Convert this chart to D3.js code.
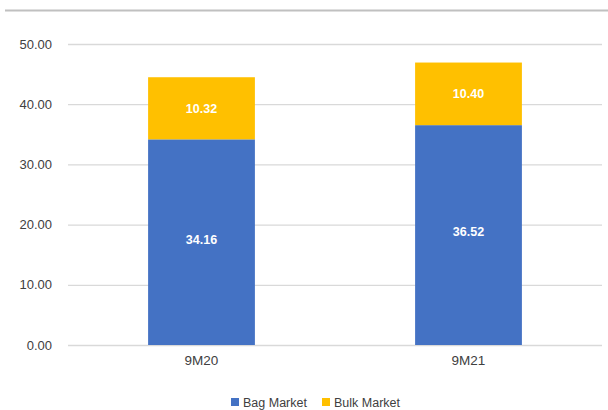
<!DOCTYPE html>
<html>
<head>
<meta charset="utf-8">
<script src="https://cdn.jsdelivr.net/npm/d3@7"></script>
<style>
  html, body { margin: 0; padding: 0; background: #fff; }
  svg { display: block; font-family: "Liberation Sans", Arial, sans-serif; }
</style>
</head>
<body>
<svg id="chart" width="608" height="410"></svg>
<script>
// Stacked volumes by period
const categories = ["9M20", "9M21"];
const seriesNames = ["Bag Market", "Bulk Market"];
const bagMarket = [34.16, 36.52];
const bulkMarket = [10.32, 10.40];
const yTicks = [0, 10, 20, 30, 40, 50];
const colors = ["#4472C4", "#FFC000"];

const svg = d3.select("#chart");
const margin = { left: 68, right: 6, top: 44, bottom: 65 };
const W = 608, H = 410;

const x = d3.scaleBand()
  .domain(categories)
  .range([margin.left, W - margin.right])
  .paddingInner(0.6)
  .paddingOuter(0.3);

const y = d3.scaleLinear()
  .domain([0, 50])
  .range([H - margin.bottom, margin.top]);

// Top frame line
svg.append("line")
  .attr("x1", 5).attr("x2", W)
  .attr("y1", 10.5).attr("y2", 10.5)
  .attr("stroke", "#c0c0c0").attr("stroke-width", 2);

// Gridlines and y labels
const yAxis = d3.axisLeft(y)
  .tickValues(yTicks)
  .tickSize(-(W - margin.right - margin.left))
  .tickPadding(16)
  .tickFormat(d3.format(".2f"));

const gy = svg.append("g")
  .attr("transform", `translate(${margin.left},0)`)
  .call(yAxis);
gy.select(".domain").remove();
gy.selectAll(".tick line").attr("stroke", "#d9d9d9").attr("stroke-width", 1.3);
gy.selectAll(".tick text")
  .attr("fill", "#404040")
  .style("font-size", "13px");

// Stacked bars
const rows = categories.map((c, i) => ({ cat: c, "Bag Market": bagMarket[i], "Bulk Market": bulkMarket[i] }));
const stack = d3.stack().keys(seriesNames)(rows);

const layers = svg.append("g").selectAll("g")
  .data(stack)
  .join("g")
  .attr("fill", (d, i) => colors[i]);

layers.selectAll("rect")
  .data(d => d)
  .join("rect")
  .attr("x", d => x(d.data.cat))
  .attr("width", x.bandwidth())
  .attr("y", d => y(d[1]))
  .attr("height", d => y(d[0]) - y(d[1]));

// Value labels inside segments
layers.selectAll("text")
  .data(d => d.map(v => ({ v, key: d.key })))
  .join("text")
  .attr("x", d => x(d.v.data.cat) + x.bandwidth() / 2)
  .attr("y", d => (y(d.v[0]) + y(d.v[1])) / 2 - (d.key === "Bag Market" ? 3 : 0))
  .attr("dy", "0.35em")
  .attr("text-anchor", "middle")
  .attr("fill", "#fff")
  .style("font-size", "12.5px")
  .style("font-weight", "bold")
  .text(d => d3.format(".2f")(d.v.data[d.key]));

// Category axis labels
const xAxis = d3.axisBottom(x).tickSize(0).tickPadding(10);
const gx = svg.append("g")
  .attr("transform", `translate(0,${y(0)})`)
  .call(xAxis);
gx.select(".domain").remove();
gx.selectAll(".tick text")
  .attr("fill", "#404040")
  .style("font-size", "13.5px");

// Legend
const legendItems = [
  { name: seriesNames[0], color: colors[0], x: 231 },
  { name: seriesNames[1], color: colors[1], x: 322 }
];
const legend = svg.append("g");
const li = legend.selectAll("g").data(legendItems).join("g")
  .attr("transform", d => `translate(${d.x},398)`);
li.append("rect").attr("width", 8).attr("height", 8).attr("fill", d => d.color);
li.append("text")
  .attr("x", 12).attr("y", 4)
  .attr("dy", "0.38em")
  .attr("fill", "#404040")
  .style("font-size", "12.5px")
  .text(d => d.name);
</script>
</body>
</html>
